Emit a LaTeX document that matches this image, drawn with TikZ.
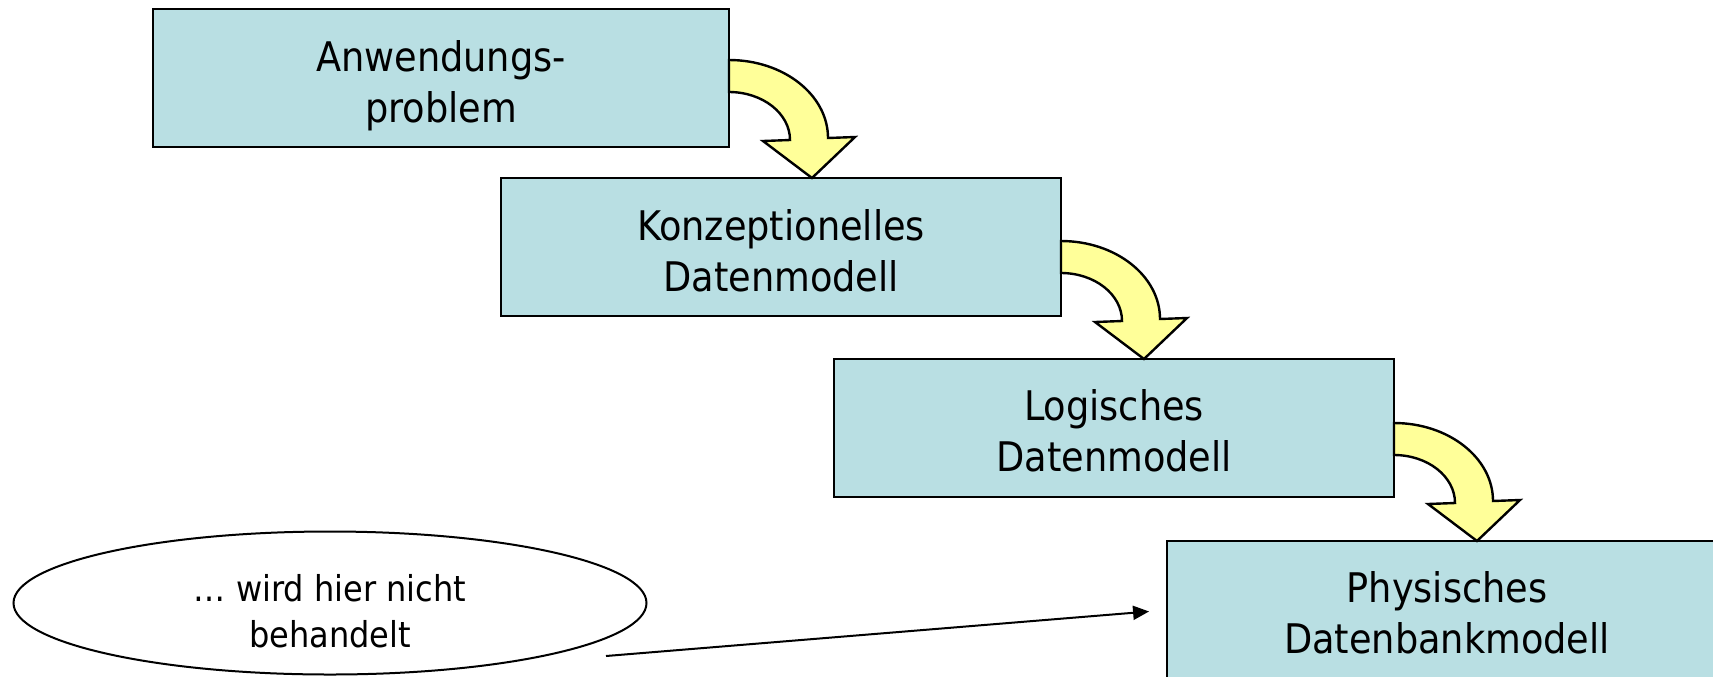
\documentclass[tikz,border=0pt]{standalone}
\usepackage{fontspec}
\setmainfont{DejaVu Sans Condensed}
\usetikzlibrary{shapes.geometric,arrows.meta,calc}
\definecolor{boxfill}{RGB}{185,223,227}
\definecolor{arrfill}{RGB}{255,255,153}
\newcommand{\lowered}[2]{\raisebox{-#1}[\height][\depth]{\begin{tabular}{@{}c@{}}#2\end{tabular}}}
\tikzset{
  stagebox/.style={draw=black, line width=1.3pt, fill=boxfill, inner sep=0pt, outer sep=0pt,
    minimum width=280pt, minimum height=69pt,
    font=\fontsize{20.4}{25.2}\selectfont},
  notebubble/.style={ellipse, draw=black, line width=1pt, fill=white, inner sep=0pt,
    minimum width=316.5pt, minimum height=71.5pt,
    font=\fontsize{17.8}{23}\selectfont},
  bendarrow/.style={draw=black, line width=1.2pt, fill=arrfill, line join=miter},
  pointer/.style={draw=black, line width=1pt, -{Triangle[length=8pt,width=7pt]}, shorten >=9pt}
}
\newcommand{\bendarrowshape}{%
  (0,118) arc[start angle=90, end angle=0, x radius=99, y radius=78]
  -- (126,41) -- (83,0) -- (34,37) -- (61,38)
  arc[start angle=0, end angle=90, x radius=61, y radius=48] -- cycle}
\begin{document}
\begin{tikzpicture}[x=0.5pt, y=0.5pt]
\useasboundingbox (0,0) rectangle (1713,-676);
\clip (0,0) rectangle (1713,-676);
\node[stagebox, minimum width=288pt] (b1) at (441,-78) {\lowered{4.5pt}{Anwendungs-\\problem}};
\node[stagebox] (b2) at (781,-247) {\lowered{4.5pt}{Konzeptionelles\\Datenmodell}};
\node[stagebox] (b3) at (1114,-428) {\lowered{4pt}{Logisches\\Datenmodell}};
\node[stagebox] (b4) at (1447,-610) {\lowered{4pt}{Physisches\\Datenbankmodell}};
\node[notebubble] (note) at (330,-603) {\lowered{6pt}{\ldots{} wird hier nicht\\behandelt}};
\coordinate (nstart) at (606,-656);
\draw[pointer] (nstart) -- (b4.west);
\begin{scope}[shift={(b1.east |- b2.north)}]
  \draw[bendarrow] \bendarrowshape;
\end{scope}
\begin{scope}[shift={(b2.east |- b3.north)}]
  \draw[bendarrow] \bendarrowshape;
\end{scope}
\begin{scope}[shift={(b3.east |- b4.north)}]
  \draw[bendarrow] \bendarrowshape;
\end{scope}
\end{tikzpicture}
\end{document}
